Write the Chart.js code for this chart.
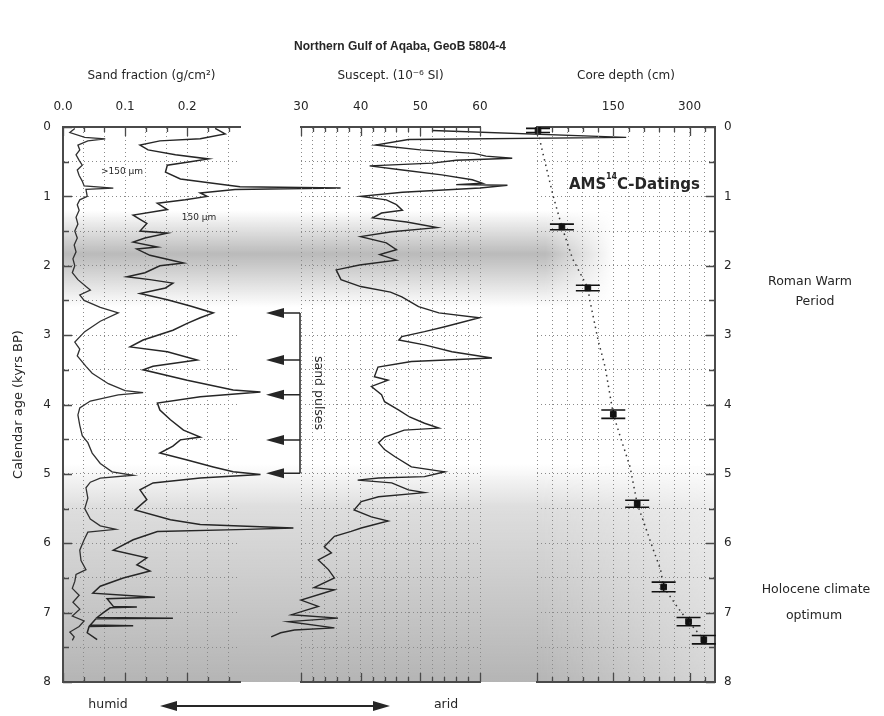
<!DOCTYPE html>
<html lang="en">
<head>
<meta charset="UTF-8">
<title>Northern Gulf of Aqaba, GeoB 5804-4</title>
<script src="https://cdn.jsdelivr.net/npm/chart.js"></script>
<style>
  html, body { margin: 0; padding: 0; background: #fff; }
  #wrap { position: relative; width: 884px; height: 716px; }
  #wrap canvas { position: absolute; left: 0; top: 0; }
</style>
</head>
<body>
<div id="wrap">
  <canvas id="sand" width="884" height="716"></canvas>
  <canvas id="susc" width="884" height="716"></canvas>
  <canvas id="depth" width="884" height="716"></canvas>
</div>
<script>
// ---- values (age in kyrs BP) ----
const ageLabels = [0, 1, 2, 3, 4, 5, 6, 7, 8];
const sandLabels = [0, 0.1, 0.2];
const suscLabels = [30, 40, 50, 60];
const depthLabels = [150, 300];

// sand fraction > 150 um
const sandCoarseAge = [0.02,0.08,0.15,0.17,0.2,0.26,0.33,0.4,0.48,0.55,0.62,0.7,0.78,0.85,0.88,0.9,1.0,1.05,1.12,1.2,1.3,1.4,1.5,1.6,1.7,1.8,1.9,2.0,2.1,2.2,2.3,2.35,2.42,2.5,2.6,2.68,2.8,2.95,3.1,3.2,3.3,3.45,3.55,3.7,3.8,3.83,3.86,3.95,4.05,4.15,4.3,4.45,4.55,4.7,4.85,4.97,5.02,5.06,5.12,5.2,5.35,5.5,5.65,5.75,5.8,5.84,5.95,6.1,6.25,6.38,6.45,6.55,6.65,6.75,6.85,6.95,7.05,7.12,7.2,7.28,7.35,7.4];
const sandCoarse = [0.019,0.011,0.035,0.068,0.04,0.024,0.027,0.021,0.026,0.031,0.023,0.026,0.031,0.034,0.081,0.037,0.039,0.027,0.023,0.026,0.021,0.024,0.019,0.023,0.018,0.021,0.016,0.019,0.015,0.024,0.037,0.044,0.027,0.034,0.06,0.089,0.06,0.035,0.019,0.027,0.023,0.037,0.047,0.073,0.1,0.129,0.089,0.044,0.027,0.024,0.027,0.031,0.04,0.047,0.06,0.079,0.113,0.06,0.044,0.037,0.04,0.035,0.044,0.06,0.085,0.04,0.034,0.027,0.029,0.037,0.021,0.019,0.015,0.026,0.016,0.027,0.015,0.034,0.026,0.011,0.018,0.015];

// sand fraction 150 um
const sandFineAge = [0.02,0.1,0.17,0.2,0.26,0.33,0.4,0.46,0.5,0.55,0.65,0.75,0.8,0.86,0.88,0.9,0.95,1.0,1.05,1.1,1.19,1.27,1.33,1.39,1.5,1.53,1.6,1.66,1.73,1.76,1.85,1.96,2.0,2.1,2.16,2.2,2.25,2.32,2.4,2.49,2.58,2.68,2.75,2.83,2.93,3.07,3.17,3.24,3.36,3.45,3.5,3.65,3.79,3.82,3.89,3.98,4.08,4.22,4.37,4.47,4.51,4.6,4.7,4.8,4.9,4.97,5.01,5.06,5.13,5.23,5.37,5.52,5.66,5.73,5.78,5.8,5.83,5.95,6.1,6.21,6.31,6.4,6.5,6.62,6.72,6.78,6.8,6.91,6.92,6.93,7.0,7.07,7.08,7.09,7.18,7.19,7.2,7.29,7.39];
const sandFine = [0.245,0.261,0.221,0.156,0.124,0.137,0.181,0.234,0.205,0.168,0.165,0.189,0.232,0.285,0.447,0.277,0.221,0.232,0.197,0.152,0.168,0.113,0.124,0.135,0.124,0.168,0.132,0.113,0.152,0.119,0.14,0.194,0.156,0.132,0.103,0.14,0.177,0.165,0.124,0.168,0.205,0.242,0.221,0.2,0.177,0.129,0.108,0.168,0.216,0.145,0.129,0.2,0.274,0.318,0.221,0.152,0.156,0.173,0.194,0.221,0.189,0.177,0.156,0.2,0.242,0.274,0.318,0.221,0.145,0.124,0.135,0.116,0.173,0.221,0.371,0.297,0.152,0.113,0.081,0.135,0.119,0.14,0.097,0.06,0.048,0.148,0.071,0.081,0.119,0.076,0.065,0.055,0.177,0.053,0.044,0.113,0.042,0.039,0.055];

// magnetic susceptibility (10^-6 SI)
const suscAge = [0.05,0.15,0.18,0.26,0.33,0.38,0.42,0.45,0.48,0.52,0.56,0.62,0.69,0.76,0.81,0.83,0.84,0.88,0.94,1.0,1.05,1.12,1.2,1.24,1.31,1.37,1.45,1.51,1.58,1.67,1.77,1.84,1.92,1.99,2.06,2.2,2.3,2.38,2.45,2.59,2.68,2.75,2.88,2.95,3.02,3.07,3.14,3.24,3.33,3.38,3.46,3.6,3.65,3.74,3.86,3.96,4.08,4.18,4.27,4.34,4.37,4.47,4.55,4.65,4.75,4.9,4.97,5.04,5.06,5.09,5.13,5.23,5.27,5.33,5.4,5.52,5.62,5.68,5.78,5.83,5.9,6.05,6.14,6.24,6.38,6.5,6.64,6.67,6.82,6.91,7.03,7.08,7.13,7.22,7.25,7.29,7.35];
const susc = [52,84.5,48,42.5,50,59,61,65.4,56,52,41.5,47,53.6,58.7,60.4,56,64.6,60,47,40,44.3,46,47,43.5,42,47.7,52.8,45.2,40,44.3,46,43.2,46,39.8,35.9,36.7,40,45,46.9,49.7,53.1,59.9,54.1,50.7,46.9,46.4,50.7,55.3,62,48.5,42.9,42.3,44.6,41.8,43.5,44,46.4,48.2,50.7,53.1,47.3,44,43,44,45.7,48.5,54.1,50.7,43,39.5,45.2,48,50.7,43,40.1,38.9,41.8,44.6,40.1,38.4,35.6,33.9,35.1,32.9,34.6,35.6,32.2,35.6,30,32.9,28.4,36.2,27.9,35.6,28.9,26.6,25];

// AMS 14C datings: core depth (cm), calendar age, age error
const datingDepth = [2, 49, 100, 150, 197, 249, 298, 328];
const datingAge = [0.05, 1.44, 2.32, 4.14, 5.43, 6.63, 7.13, 7.39];
const datingErr = [0.03, 0.04, 0.04, 0.06, 0.05, 0.07, 0.06, 0.06];

// age model (dotted line)
const modelDepth = [0, 10, 32, 49, 70, 100, 104, 120, 134, 150, 164, 183, 197, 213, 229, 243, 249, 276, 298, 328];
const modelAge = [0, 0.33, 1.0, 1.44, 1.9, 2.32, 2.5, 3.07, 3.46, 4.14, 4.47, 4.9, 5.43, 5.76, 6.1, 6.38, 6.63, 6.92, 7.13, 7.39];

// sand pulses and shaded climate periods
const pulseAge = [2.68, 3.36, 3.86, 4.51, 4.99];
const bandFrom = [1.2, 4.85];
const bandTo = [2.6, 8];

// ---- styling ----
const FONT = '"DejaVu Sans", sans-serif';
const INK = '#262626';
const FRAME = '#4a4a4a';
const GRID = '#8a8a8a';

const pts = (xs, ys) => xs.map((x, i) => ({ x, y: ys[i] }));
const onLabel = (labels, v) => labels.some(l => Math.abs(l - v) < 1e-6);

function topAxis(min, max, step, labels, fmt, title) {
  return {
    type: 'linear', position: 'top', min, max,
    ticks: {
      stepSize: step, includeBounds: false, autoSkip: false, maxRotation: 0, padding: 13,
      color: INK, font: { family: FONT, size: 12 },
      callback: v => onLabel(labels, v) ? fmt(v) : ''
    },
    grid: { color: GRID, lineWidth: 1, drawTicks: false },
    border: { display: true, color: FRAME, width: 2, dash: [1, 3] },
    title: { display: true, text: title, color: INK, font: { family: FONT, size: 12 }, padding: { top: 69, bottom: 0 } },
    afterFit: s => { s.height = 127; s.paddingLeft = 0; s.paddingRight = 0; }
  };
}

function bottomAxis(min, max) {
  return {
    type: 'linear', position: 'bottom', min, max,
    ticks: { display: false },
    grid: { display: false, drawTicks: false },
    border: { display: true, color: FRAME, width: 2 },
    afterFit: s => { s.height = 34; s.paddingLeft = 0; s.paddingRight = 0; }
  };
}

function ageAxis(position, show, width, title) {
  return {
    type: 'linear', position, reverse: true, min: 0, max: 8,
    ticks: {
      display: show, stepSize: 0.5, autoSkip: false, padding: position === 'left' ? 12 : 9,
      color: INK, font: { family: FONT, size: 12 },
      callback: v => ageLabels.includes(v) ? String(v) : ''
    },
    grid: { color: GRID, lineWidth: 1, drawTicks: false },
    border: { display: show, color: FRAME, width: 2, dash: [1, 3] },
    title: { display: !!title, text: title || '', color: INK, font: { family: FONT, size: 13 }, padding: { top: 11, bottom: 0 } },
    afterFit: s => { s.width = width; s.paddingTop = 0; s.paddingBottom = 0; }
  };
}

// short tick marks pointing into the frame
const innerTicks = {
  id: 'innerTicks',
  afterDatasetsDraw(chart, args, o) {
    const { ctx, chartArea: a } = chart;
    const xs = chart.scales.x, ys = chart.scales.y;
    ctx.save();
    ctx.strokeStyle = FRAME;
    ctx.lineWidth = 1.3;
    ctx.beginPath();
    xs.ticks.forEach(t => {
      const px = Math.round(xs.getPixelForValue(t.value)) + 0.5;
      const r = t.value / o.major;
      const len = Math.abs(r - Math.round(r)) < 1e-6 ? 9 : 5;
      ctx.moveTo(px, a.top); ctx.lineTo(px, a.top + len);
      ctx.moveTo(px, a.bottom); ctx.lineTo(px, a.bottom - len);
    });
    if (o.side) {
      const x0 = o.side === 'left' ? a.left : a.right;
      const dir = o.side === 'left' ? 1 : -1;
      ys.ticks.forEach(t => {
        const py = Math.round(ys.getPixelForValue(t.value)) + 0.5;
        const len = Number.isInteger(t.value) ? 9 : 6;
        ctx.moveTo(x0, py); ctx.lineTo(x0 + dir * len, py);
      });
    }
    ctx.stroke();
    ctx.restore();
  }
};

// gray shading of the Roman Warm Period and Holocene optimum
const shading = {
  id: 'shading',
  beforeDraw(chart) {
    const { ctx } = chart;
    const ys = chart.scales.y;
    const left = chart.chartArea.left, right = 715;
    const looks = [
      { stops: [[0, 0], [0.45, 0.72], [1, 0]], fade: [545, 615, 0] },
      { stops: [[0, 0], [0.2, 0.35], [1, 0.78]], fade: [540, 715, 0.55] }
    ];
    bandFrom.forEach((from, i) => {
      const y0 = ys.getPixelForValue(from), y1 = ys.getPixelForValue(bandTo[i]);
      const look = looks[i];
      const off = document.createElement('canvas');
      off.width = chart.width; off.height = chart.height;
      const c = off.getContext('2d');
      const g = c.createLinearGradient(0, y0, 0, y1);
      look.stops.forEach(([p, a]) => g.addColorStop(p, `rgba(160,160,160,${a})`));
      c.fillStyle = g;
      c.fillRect(left, y0, right - left, y1 - y0);
      c.globalCompositeOperation = 'destination-in';
      const h = c.createLinearGradient(look.fade[0], 0, look.fade[1], 0);
      h.addColorStop(0, 'rgba(0,0,0,1)');
      h.addColorStop(1, `rgba(0,0,0,${look.fade[2]})`);
      c.fillStyle = h;
      c.fillRect(0, 0, off.width, off.height);
      ctx.drawImage(off, 0, 0);
    });
  }
};

// vertical age error bars with wide caps
const errorBars = {
  id: 'errorBars',
  afterDatasetsDraw(chart) {
    const { ctx } = chart;
    const xs = chart.scales.x, ys = chart.scales.y;
    ctx.save();
    ctx.strokeStyle = '#111';
    ctx.lineWidth = 1.6;
    datingDepth.forEach((d, i) => {
      const x = xs.getPixelForValue(d);
      const y0 = ys.getPixelForValue(datingAge[i] - datingErr[i]);
      const y1 = ys.getPixelForValue(datingAge[i] + datingErr[i]);
      ctx.beginPath();
      ctx.moveTo(x, y0); ctx.lineTo(x, y1);
      ctx.moveTo(x - 12, y0); ctx.lineTo(x + 12, y0);
      ctx.moveTo(x - 12, y1); ctx.lineTo(x + 12, y1);
      ctx.stroke();
    });
    ctx.restore();
  }
};

// title, period names, sand pulse arrows, humid/arid arrow
const notes = {
  id: 'notes',
  afterDraw(chart) {
    const { ctx } = chart;
    const ys = chart.scales.y;
    ctx.save();
    ctx.fillStyle = INK;
    ctx.strokeStyle = INK;
    ctx.textBaseline = 'middle';
    ctx.textAlign = 'center';

    ctx.font = 'bold 12px "Liberation Sans", Arial, sans-serif';
    ctx.fillText('Northern Gulf of Aqaba, GeoB 5804-4', 400, 47);

    ctx.font = `12.5px ${FONT}`;
    ctx.fillText('Roman Warm', 810, 282);
    ctx.fillText('Period', 815, 302);
    ctx.fillText('Holocene climate', 816, 590);
    ctx.fillText('optimum', 814, 616);
    ctx.fillText('humid', 108, 705);
    ctx.fillText('arid', 446, 705);

    ctx.font = `9px ${FONT}`;
    ctx.fillText('>150 µm', 122, 172);
    ctx.fillText('150 µm', 199, 218);

    ctx.textAlign = 'left';
    ctx.font = `bold 15px ${FONT}`;
    ctx.fillText('AMS', 569, 185);
    ctx.font = `bold 8px ${FONT}`;
    ctx.fillText('14', 606, 177);
    ctx.font = `bold 15px ${FONT}`;
    ctx.fillText('C-Datings', 617, 185);

    // humid <-> arid
    ctx.lineWidth = 2;
    ctx.beginPath(); ctx.moveTo(174, 706); ctx.lineTo(376, 706); ctx.stroke();
    ctx.beginPath(); ctx.moveTo(160, 706); ctx.lineTo(177, 701); ctx.lineTo(177, 711); ctx.closePath(); ctx.fill();
    ctx.beginPath(); ctx.moveTo(390, 706); ctx.lineTo(373, 701); ctx.lineTo(373, 711); ctx.closePath(); ctx.fill();

    // sand pulses
    const yTop = ys.getPixelForValue(pulseAge[0]);
    const yBot = ys.getPixelForValue(pulseAge[pulseAge.length - 1]);
    ctx.lineWidth = 1.5;
    ctx.beginPath();
    ctx.moveTo(300, yTop); ctx.lineTo(300, yBot);
    pulseAge.forEach(a => { const y = ys.getPixelForValue(a); ctx.moveTo(300, y); ctx.lineTo(280, y); });
    ctx.stroke();
    pulseAge.forEach(a => {
      const y = ys.getPixelForValue(a);
      ctx.beginPath(); ctx.moveTo(266, y); ctx.lineTo(284, y - 5); ctx.lineTo(284, y + 5); ctx.closePath(); ctx.fill();
    });
    ctx.save();
    ctx.translate(318, (yTop + yBot) / 2);
    ctx.rotate(Math.PI / 2);
    ctx.textAlign = 'center';
    ctx.font = `12.5px ${FONT}`;
    ctx.fillText('sand pulses', 0, 0);
    ctx.restore();

    ctx.restore();
  }
};

const base = {
  responsive: false, animation: false, devicePixelRatio: 1, events: [],
  plugins: { legend: { display: false }, tooltip: { enabled: false } }
};
const line = (data, color, width) => ({
  data, showLine: true, borderColor: color, borderWidth: width, pointRadius: 0, tension: 0, clip: false
});

new Chart(document.getElementById('sand'), {
  type: 'scatter',
  data: { datasets: [
    line(pts(sandCoarse, sandCoarseAge), '#303030', 1.3),
    line(pts(sandFine, sandFineAge), '#262626', 1.5)
  ] },
  options: {
    ...base,
    layout: { padding: { left: 0, right: 644, top: 0, bottom: 0 } },
    plugins: { ...base.plugins, innerTicks: { major: 0.1, side: 'left' } },
    scales: {
      x: topAxis(0, 0.285, 0.1 / 3, sandLabels, v => v.toFixed(1), 'Sand fraction (g/cm²)'),
      x2: bottomAxis(0, 0.285),
      y: ageAxis('left', true, 63, 'Calendar age (kyrs BP)')
    }
  },
  plugins: [shading, innerTicks]
});

new Chart(document.getElementById('susc'), {
  type: 'scatter',
  data: { datasets: [ line(pts(susc, suscAge), '#262626', 1.4) ] },
  options: {
    ...base,
    layout: { padding: { left: 301, right: 404, top: 0, bottom: 0 } },
    plugins: { ...base.plugins, innerTicks: { major: 10, side: null } },
    scales: {
      x: topAxis(30, 60, 2, suscLabels, v => String(v), 'Suscept. (10⁻⁶ SI)'),
      x2: bottomAxis(30, 60),
      y: ageAxis('left', false, 0, '')
    }
  },
  plugins: [innerTicks]
});

new Chart(document.getElementById('depth'), {
  type: 'scatter',
  data: { datasets: [
    { ...line(pts(modelDepth, modelAge), '#333', 1.5), borderDash: [1.5, 4] },
    { data: pts(datingDepth, datingAge), pointStyle: 'rect', pointRadius: 4, backgroundColor: '#111', borderColor: '#111', clip: false }
  ] },
  options: {
    ...base,
    layout: { padding: { left: 537, right: 0, top: 0, bottom: 0 } },
    plugins: { ...base.plugins, innerTicks: { major: 150, side: 'right' } },
    scales: {
      x: topAxis(0, 350, 30, depthLabels, v => String(v), 'Core depth (cm)'),
      x2: bottomAxis(0, 350),
      y: ageAxis('right', true, 169, '')
    }
  },
  plugins: [errorBars, innerTicks, notes]
});
</script>
</body>
</html>
